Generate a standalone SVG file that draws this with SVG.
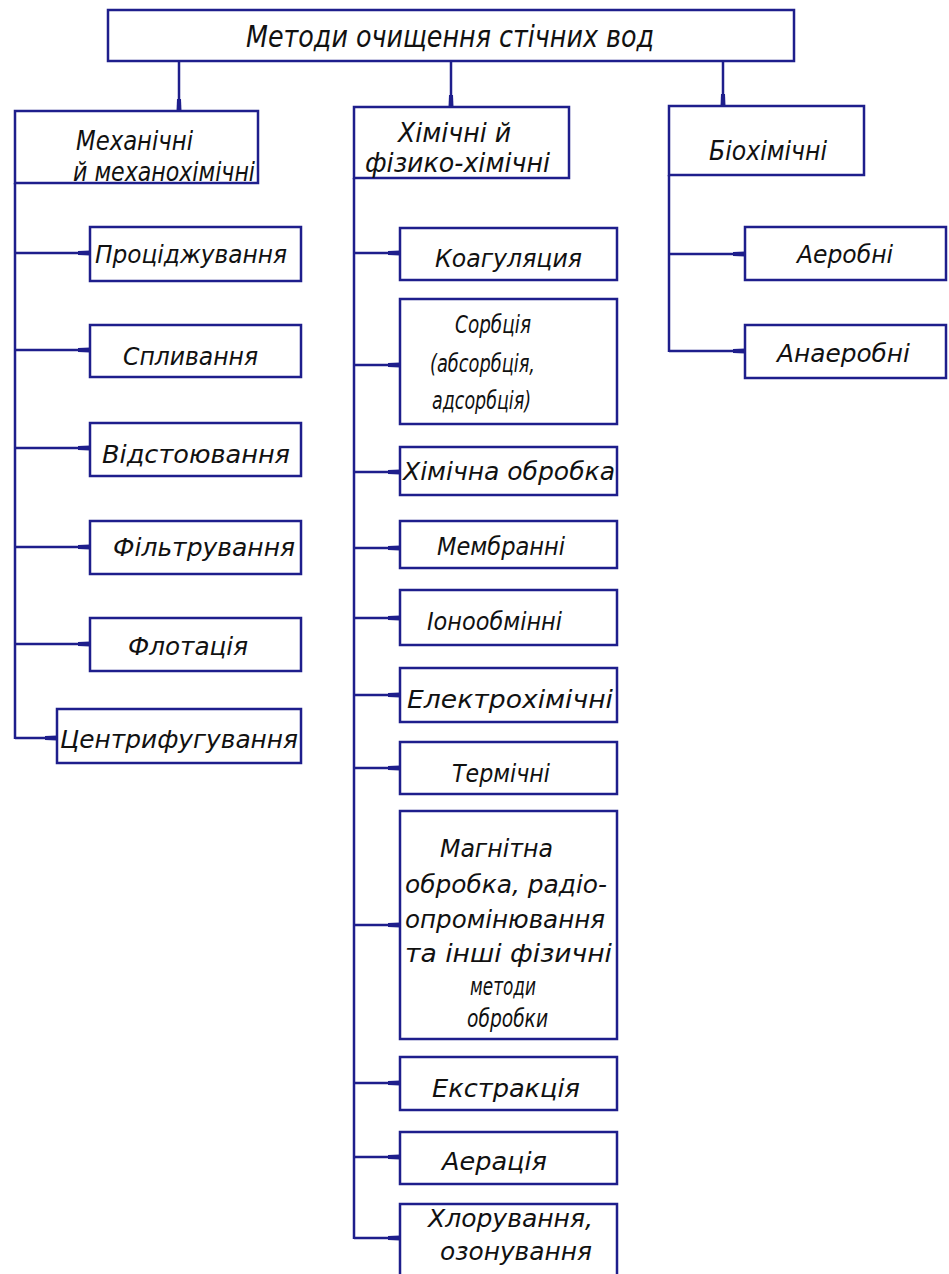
<svg xmlns="http://www.w3.org/2000/svg" width="949" height="1274" viewBox="0 0 949 1274">
<style>
.box{fill:#fff;stroke:#1e1e8c;stroke-width:2.5}
.ln{fill:none;stroke:#1e1e8c;stroke-width:2.5}
text{font-family:"DejaVu Sans Condensed","DejaVu Sans","Liberation Sans",sans-serif;font-style:italic;fill:#111;font-size:24px}
.h{font-size:27px}
.t{font-size:30px}
</style>
<defs>
<marker id="ar" viewBox="0 0 12 7" refX="12" refY="3.5" markerWidth="12" markerHeight="7" markerUnits="userSpaceOnUse" orient="auto">
<path d="M0,1.5 L12,1 L12,6 L0,5.5 Z" fill="#1e1e8c"/>
</marker>
</defs>
<rect width="949" height="1274" fill="#fff"/>
<g id="connectors">
<line class="ln" x1="179" y1="61" x2="179" y2="111" marker-end="url(#ar)"/>
<line class="ln" x1="451" y1="61" x2="451" y2="107" marker-end="url(#ar)"/>
<line class="ln" x1="723" y1="61" x2="723" y2="106" marker-end="url(#ar)"/>
<line class="ln" x1="15" y1="183" x2="15" y2="739"/>
<line class="ln" x1="15" y1="253" x2="90" y2="253" marker-end="url(#ar)"/>
<line class="ln" x1="15" y1="350" x2="90" y2="350" marker-end="url(#ar)"/>
<line class="ln" x1="15" y1="448" x2="90" y2="448" marker-end="url(#ar)"/>
<line class="ln" x1="15" y1="547" x2="90" y2="547" marker-end="url(#ar)"/>
<line class="ln" x1="15" y1="644" x2="90" y2="644" marker-end="url(#ar)"/>
<line class="ln" x1="15" y1="738" x2="57" y2="738" marker-end="url(#ar)"/>
<line class="ln" x1="354" y1="178" x2="354" y2="1239"/>
<line class="ln" x1="354" y1="253" x2="400" y2="253" marker-end="url(#ar)"/>
<line class="ln" x1="354" y1="365" x2="400" y2="365" marker-end="url(#ar)"/>
<line class="ln" x1="354" y1="472" x2="400" y2="472" marker-end="url(#ar)"/>
<line class="ln" x1="354" y1="548" x2="400" y2="548" marker-end="url(#ar)"/>
<line class="ln" x1="354" y1="618" x2="400" y2="618" marker-end="url(#ar)"/>
<line class="ln" x1="354" y1="695" x2="400" y2="695" marker-end="url(#ar)"/>
<line class="ln" x1="354" y1="768" x2="400" y2="768" marker-end="url(#ar)"/>
<line class="ln" x1="354" y1="925" x2="400" y2="925" marker-end="url(#ar)"/>
<line class="ln" x1="354" y1="1083" x2="400" y2="1083" marker-end="url(#ar)"/>
<line class="ln" x1="354" y1="1157" x2="400" y2="1157" marker-end="url(#ar)"/>
<line class="ln" x1="354" y1="1238" x2="400" y2="1238" marker-end="url(#ar)"/>
<line class="ln" x1="669" y1="175" x2="669" y2="352"/>
<line class="ln" x1="669" y1="254" x2="745" y2="254" marker-end="url(#ar)"/>
<line class="ln" x1="669" y1="351" x2="745" y2="351" marker-end="url(#ar)"/>
</g>
<g id="root"><rect class="box" x="108" y="10" width="686" height="51"/><text class="t" x="246" y="47" textLength="408" lengthAdjust="spacingAndGlyphs">Методи очищення стічних вод</text></g>
<g id="mech"><rect class="box" x="15" y="111" width="243" height="72"/><text class="h" x="76" y="150" textLength="117" lengthAdjust="spacingAndGlyphs">Механічні</text><text class="h" x="73" y="181" textLength="182" lengthAdjust="spacingAndGlyphs">й механохімічні</text></g>
<g id="chem"><rect class="box" x="354" y="107" width="215" height="71"/><text class="h" x="398" y="142" textLength="113" lengthAdjust="spacingAndGlyphs">Хімічні й</text><text class="h" x="365" y="172" textLength="185" lengthAdjust="spacingAndGlyphs">фізико-хімічні</text></g>
<g id="bio"><rect class="box" x="669" y="106" width="195" height="69"/><text class="h" x="709" y="160" textLength="118" lengthAdjust="spacingAndGlyphs">Біохімічні</text></g>
<g id="m1"><rect class="box" x="90" y="227" width="211" height="54"/><text x="95" y="263" textLength="192" lengthAdjust="spacingAndGlyphs">Проціджування</text></g>
<g id="m2"><rect class="box" x="90" y="325" width="211" height="52"/><text x="123" y="365" textLength="135" lengthAdjust="spacingAndGlyphs">Спливання</text></g>
<g id="m3"><rect class="box" x="90" y="423" width="211" height="53"/><text x="102" y="463" textLength="188" lengthAdjust="spacingAndGlyphs">Відстоювання</text></g>
<g id="m4"><rect class="box" x="90" y="521" width="211" height="53"/><text x="113" y="556" textLength="182" lengthAdjust="spacingAndGlyphs">Фільтрування</text></g>
<g id="m5"><rect class="box" x="90" y="618" width="211" height="53"/><text x="128" y="655" textLength="120" lengthAdjust="spacingAndGlyphs">Флотація</text></g>
<g id="m6"><rect class="box" x="57" y="709" width="244" height="54"/><text x="60" y="748" textLength="238" lengthAdjust="spacingAndGlyphs">Центрифугування</text></g>
<g id="c1"><rect class="box" x="400" y="228" width="217" height="52"/><text x="435" y="267" textLength="147" lengthAdjust="spacingAndGlyphs">Коагуляция</text></g>
<g id="c2"><rect class="box" x="400" y="299" width="217" height="125"/><text x="455" y="333" textLength="76" lengthAdjust="spacingAndGlyphs">Сорбція</text><text x="430" y="372" textLength="105" lengthAdjust="spacingAndGlyphs">(абсорбція,</text><text x="432" y="409" textLength="99" lengthAdjust="spacingAndGlyphs">адсорбція)</text></g>
<g id="c3"><rect class="box" x="400" y="447" width="217" height="48"/><text x="403" y="480" textLength="212" lengthAdjust="spacingAndGlyphs">Хімічна обробка</text></g>
<g id="c4"><rect class="box" x="400" y="521" width="217" height="47"/><text x="437" y="555" textLength="128" lengthAdjust="spacingAndGlyphs">Мембранні</text></g>
<g id="c5"><rect class="box" x="400" y="590" width="217" height="55"/><text x="427" y="630" textLength="135" lengthAdjust="spacingAndGlyphs">Іонообмінні</text></g>
<g id="c6"><rect class="box" x="400" y="668" width="217" height="54"/><text x="407" y="708" textLength="206" lengthAdjust="spacingAndGlyphs">Електрохімічні</text></g>
<g id="c7"><rect class="box" x="400" y="742" width="217" height="52"/><text x="452" y="782" textLength="98" lengthAdjust="spacingAndGlyphs">Термічні</text></g>
<g id="c8"><rect class="box" x="400" y="811" width="217" height="228"/><text x="440" y="857" textLength="113" lengthAdjust="spacingAndGlyphs">Магнітна</text><text x="405" y="893" textLength="202" lengthAdjust="spacingAndGlyphs">обробка, радіо-</text><text x="405" y="928" textLength="200" lengthAdjust="spacingAndGlyphs">опромінювання</text><text x="405" y="962" textLength="207" lengthAdjust="spacingAndGlyphs">та інші фізичні</text><text x="470" y="995" textLength="66" lengthAdjust="spacingAndGlyphs">методи</text><text x="467" y="1027" textLength="81" lengthAdjust="spacingAndGlyphs">обробки</text></g>
<g id="c9"><rect class="box" x="400" y="1057" width="217" height="53"/><text x="432" y="1097" textLength="148" lengthAdjust="spacingAndGlyphs">Екстракція</text></g>
<g id="c10"><rect class="box" x="400" y="1132" width="217" height="52"/><text x="442" y="1170" textLength="105" lengthAdjust="spacingAndGlyphs">Аерація</text></g>
<g id="c11"><rect class="box" x="400" y="1204" width="217" height="90"/><text x="428" y="1227" textLength="165" lengthAdjust="spacingAndGlyphs">Хлорування,</text><text x="440" y="1260" textLength="152" lengthAdjust="spacingAndGlyphs">озонування</text></g>
<g id="b1"><rect class="box" x="745" y="227" width="201" height="53"/><text x="797" y="263" textLength="96" lengthAdjust="spacingAndGlyphs">Аеробні</text></g>
<g id="b2"><rect class="box" x="745" y="325" width="201" height="53"/><text x="777" y="362" textLength="133" lengthAdjust="spacingAndGlyphs">Анаеробні</text></g>
</svg>
